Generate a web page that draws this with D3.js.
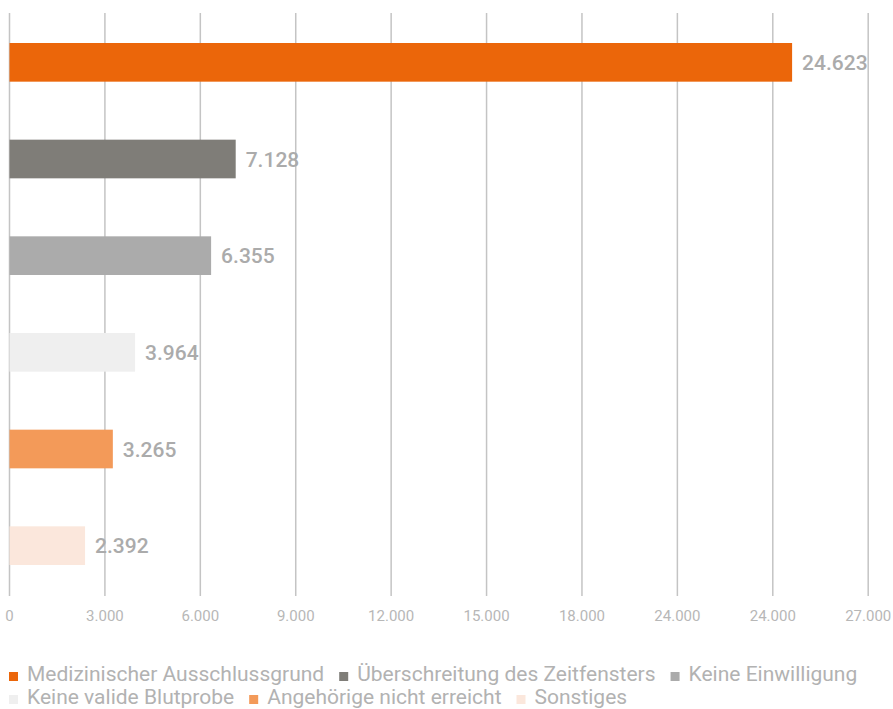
<!DOCTYPE html>
<html>
<head>
<meta charset="utf-8">
<script src="https://cdn.jsdelivr.net/npm/d3@7"></script>
<style>
  html, body { margin: 0; padding: 0; background: #ffffff; }
  svg { display: block; font-family: Roboto, "Noto Sans", sans-serif; }
</style>
</head>
<body>
<svg id="chart" width="893" height="709"></svg>
<script>
// Gründe für Nicht-Einschluss
const categories = [
  "Medizinischer Ausschlussgrund",
  "Überschreitung des Zeitfensters",
  "Keine Einwilligung",
  "Keine valide Blutprobe",
  "Angehörige nicht erreicht",
  "Sonstiges"
];
const values = [24623, 7128, 6355, 3964, 3265, 2392];
const valueLabels = ["24.623", "7.128", "6.355", "3.964", "3.265", "2.392"];
const colors = ["#EB660A", "#7F7D78", "#ABABAB", "#EFEFEF", "#F39A59", "#FBE7DC"];
const tickValues = [0, 3000, 6000, 9000, 12000, 15000, 18000, 21000, 24000, 27000];
const tickLabels = ["0", "3.000", "6.000", "9.000", "12.000", "15.000", "18.000", "24.000", "24.000", "27.000"];

const svg = d3.select("#chart");

const x = d3.scaleLinear().domain([0, 27000]).range([9, 867.7]);
const y = d3.scaleBand().domain(categories).range([14, 594])
  .paddingInner(0.6).paddingOuter(0.3);

// vertical gridlines with value ticks
const xAxis = d3.axisBottom(x)
  .tickValues(tickValues)
  .tickSize(583)
  .tickPadding(14)
  .tickFormat((d, i) => tickLabels[i]);

const gAxis = svg.append("g")
  .attr("transform", "translate(0,13)")
  .call(xAxis);
gAxis.select(".domain").remove();
gAxis.selectAll(".tick line")
  .attr("stroke", "#c4c4c4")
  .attr("stroke-width", 1.5);
gAxis.selectAll(".tick text")
  .attr("fill", "#b7b7b7")
  .attr("font-size", 15)
  .attr("font-weight", 400)
  .attr("font-family", "Roboto, sans-serif");

// bars
svg.append("g").selectAll("rect")
  .data(values)
  .join("rect")
  .attr("x", x(0) + 0.5)
  .attr("y", (d, i) => y(categories[i]))
  .attr("width", d => x(d) - x(0) - 0.5)
  .attr("height", y.bandwidth())
  .attr("fill", (d, i) => colors[i]);

// value labels
svg.append("g").selectAll("text")
  .data(values)
  .join("text")
  .attr("x", d => x(d) + 10)
  .attr("y", (d, i) => y(categories[i]) + y.bandwidth() / 2)
  .attr("dy", "0.36em")
  .attr("fill", "#ababab")
  .attr("font-size", 21)
  .attr("font-weight", 500)
  .text((d, i) => valueLabels[i]);

// legend, flowing into rows
const legend = svg.append("g");
const legendFont = 21;
const rowY = [681, 704];
const sq = 9;
let lx = 9, row = 0;
const maxX = 885;
categories.forEach((c, i) => {
  const item = legend.append("g");
  const t = item.append("text")
    .attr("font-size", legendFont)
    .attr("fill", "#b2b2b2")
    .attr("font-weight", 400)
    .text(c);
  const w = t.node().getComputedTextLength();
  const itemW = sq + 9 + w;
  if (lx + itemW > maxX) { row += 1; lx = 9; }
  item.append("rect")
    .attr("x", lx)
    .attr("y", rowY[row] - 9)
    .attr("width", sq)
    .attr("height", sq)
    .attr("fill", colors[i]);
  t.attr("x", lx + sq + 9).attr("y", rowY[row]);
  lx += itemW + 15;
});
</script>
</body>
</html>
